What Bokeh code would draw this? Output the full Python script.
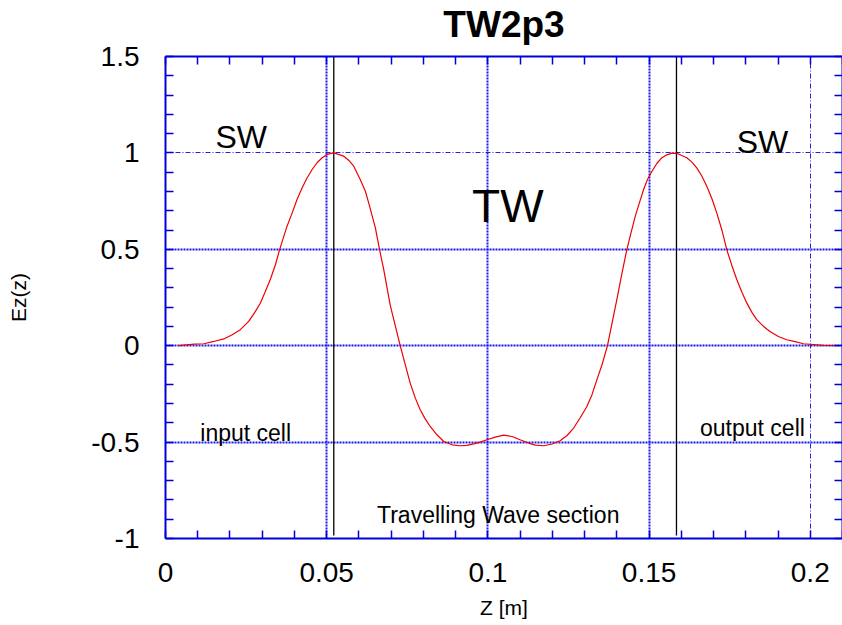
from bokeh.plotting import figure
from bokeh.models import LinearAxis, FixedTicker, Grid, Label, Range1d
from bokeh.embed import file_html
from bokeh.resources import INLINE

# ---------------- data ----------------
z_m = [0.004, 0.009, 0.0119, 0.015, 0.0181, 0.0207, 0.0232, 0.0258, 0.0279, 0.0294,
       0.031, 0.0325, 0.0341, 0.0354, 0.0377, 0.0393, 0.0408, 0.0424, 0.0439, 0.0455,
       0.047, 0.0486, 0.0501, 0.0522, 0.0553, 0.0568, 0.0584, 0.0604, 0.062, 0.0632,
       0.0651, 0.0664, 0.0677, 0.0697, 0.0728, 0.0759, 0.0775, 0.079, 0.0806, 0.0821,
       0.0842, 0.0863, 0.0889, 0.0914, 0.0935, 0.0956, 0.0976, 0.0997, 0.1023, 0.1049,
       0.1075, 0.11, 0.1126, 0.1147, 0.1173, 0.1199, 0.1224, 0.1245, 0.1266, 0.1286,
       0.1307, 0.1323, 0.1338, 0.1354, 0.1371, 0.14, 0.1416, 0.1431, 0.1444, 0.1457,
       0.147, 0.1483, 0.1495, 0.1509, 0.1524, 0.154, 0.1555, 0.1571, 0.1586, 0.1617,
       0.1633, 0.1648, 0.1664, 0.1679, 0.1695, 0.171, 0.1726, 0.1741, 0.1757, 0.1772,
       0.1788, 0.1803, 0.1819, 0.1834, 0.1855, 0.1875, 0.1901, 0.1927, 0.1953, 0.1979,
       0.204, 0.2092]
ez = [0.0, 0.008, 0.010, 0.022, 0.035, 0.057, 0.083, 0.126, 0.178, 0.22,
      0.282, 0.343, 0.42, 0.498, 0.62, 0.689, 0.758, 0.819, 0.87, 0.914,
      0.949, 0.975, 0.992, 1.0, 0.983, 0.962, 0.931, 0.862, 0.801, 0.73,
      0.611, 0.498, 0.395, 0.21, 0.0, -0.194, -0.272, -0.332, -0.381, -0.419,
      -0.462, -0.497, -0.514, -0.519, -0.517, -0.509, -0.5, -0.488, -0.474, -0.464,
      -0.471, -0.488, -0.505, -0.516, -0.519, -0.51, -0.493, -0.467, -0.427, -0.375,
      -0.315, -0.254, -0.177, -0.099, 0.0, 0.239, 0.377, 0.498, 0.585, 0.671,
      0.741, 0.81, 0.862, 0.905, 0.945, 0.975, 0.99, 0.999, 0.998, 0.975,
      0.952, 0.922, 0.879, 0.827, 0.762, 0.689, 0.599, 0.498, 0.415, 0.343,
      0.277, 0.222, 0.173, 0.135, 0.1, 0.074, 0.048, 0.031, 0.021, 0.01,
      0.002, 0.0]

cell_centres = [0.0522, 0.1585]
cell_line_bottom = [-0.985, -0.985]
cell_line_top = [1.5, 1.5]

x_ticks = [0, 0.05, 0.1, 0.15, 0.2]
x_tick_labels = ["0", "0.05", "0.1", "0.15", "0.2"]
x_minor = [0.01, 0.02, 0.03, 0.04, 0.06, 0.07, 0.08, 0.09, 0.11, 0.12, 0.13, 0.14,
           0.16, 0.17, 0.18, 0.19, 0.21]
y_ticks = [-1, -0.5, 0, 0.5, 1, 1.5]
y_tick_labels = ["-1", "-0.5", "0", "0.5", "1", "1.5"]
y_minor = [-0.9, -0.8, -0.7, -0.6, -0.4, -0.3, -0.2, -0.1, 0.1, 0.2, 0.3, 0.4,
           0.6, 0.7, 0.8, 0.9, 1.1, 1.2, 1.3, 1.4]

x_grid_thick = [0.05, 0.1, 0.15]
x_grid_thin = [0.2]
y_grid_thick = [-0.5, 0, 0.5]
y_grid_thin = [1]

title_text = "TW2p3"
annotations = [
    ("SW", 0.0155, 1.085, "32px"),
    ("SW", 0.1772, 1.059, "32px"),
    ("TW", 0.0951, 0.723, "46px"),
    ("input cell", 0.0108, -0.452, "23px"),
    ("output cell", 0.1658, -0.426, "23px"),
    ("Travelling Wave section", 0.0656, -0.877, "23px"),
]

FONT = "Liberation Sans"
AXIS_BLUE = "#0000dd"
GRID_BLUE = "#1a1aee"

p = figure(frame_width=677, frame_height=482,
           x_range=Range1d(0, 0.21), y_range=Range1d(-1, 1.5),
           output_backend="svg", toolbar_location=None,
           min_border_left=165, min_border_top=57, min_border_right=0, min_border_bottom=60,
           title=title_text, x_axis_label="Z [m]", y_axis_label="Ez(z)",
           margin=(-11, 0, 0, 0))
p.background_fill_color = "white"
p.border_fill_color = "white"
p.outline_line_color = None

p.title.align = "center"
p.title.text_font = FONT
p.title.text_font_size = "37px"
p.title.text_font_style = "bold"
p.title.text_color = "black"
p.title.standoff = 24

p.xgrid.visible = False
p.ygrid.visible = False

xt = FixedTicker(ticks=x_ticks, minor_ticks=x_minor)
yt = FixedTicker(ticks=y_ticks, minor_ticks=y_minor)
# ticks only (no labels) for the top / right frame axes
xt_plain = FixedTicker(ticks=[], minor_ticks=x_ticks + x_minor)
yt_plain = FixedTicker(ticks=[], minor_ticks=y_ticks + y_minor)
xover = {t: l for t, l in zip(x_ticks, x_tick_labels)}
yover = {t: l for t, l in zip(y_ticks, y_tick_labels)}


def style_axis(ax, ticker):
    ax.ticker = ticker
    ax.axis_line_color = AXIS_BLUE
    ax.axis_line_width = 2
    ax.major_tick_line_color = AXIS_BLUE
    ax.minor_tick_line_color = AXIS_BLUE
    ax.major_tick_line_width = 1.5
    ax.minor_tick_line_width = 1.5
    ax.major_tick_in = 8
    ax.major_tick_out = 0
    ax.minor_tick_in = 8
    ax.minor_tick_out = 0


xa = p.xaxis[0]
ya = p.yaxis[0]
style_axis(xa, xt)
style_axis(ya, yt)
xa.major_label_overrides = xover
ya.major_label_overrides = yover
for ax in (xa, ya):
    ax.major_label_text_font = FONT
    ax.major_label_text_font_size = "28px"
    ax.major_label_text_color = "black"
    ax.axis_label_text_font = FONT
    ax.axis_label_text_font_size = "21px"
    ax.axis_label_text_font_style = "normal"
    ax.axis_label_text_color = "black"
xa.major_label_standoff = 24
ya.major_label_standoff = 26
xa.axis_label_standoff = 11
ya.axis_label_standoff = 58

top = LinearAxis()
right = LinearAxis()
style_axis(top, xt_plain)
style_axis(right, yt_plain)
top.major_label_standoff = 0
right.major_label_standoff = 0
p.add_layout(top, "above")
p.add_layout(right, "right")

# grids
p.add_layout(Grid(dimension=0, ticker=FixedTicker(ticks=x_grid_thick), grid_line_color=GRID_BLUE,
                  grid_line_width=2, grid_line_dash="2 1"))
p.add_layout(Grid(dimension=1, ticker=FixedTicker(ticks=y_grid_thick), grid_line_color=GRID_BLUE,
                  grid_line_width=2, grid_line_dash="2 1"))
p.add_layout(Grid(dimension=0, ticker=FixedTicker(ticks=x_grid_thin), grid_line_color="#2222dd",
                  grid_line_width=1, grid_line_dash="5 2 1 2"))
p.add_layout(Grid(dimension=1, ticker=FixedTicker(ticks=y_grid_thin), grid_line_color="#2222dd",
                  grid_line_width=1, grid_line_dash="5 2 1 2"))

# cell centre lines
p.segment(x0=cell_centres, y0=cell_line_bottom, x1=cell_centres, y1=cell_line_top,
          line_color="black", line_width=1.3)

# field curve
p.line(z_m, ez, line_color="#ee0000", line_width=1.2)

for txt, x, y, size in annotations:
    p.add_layout(Label(x=x, y=y, text=txt, text_font=FONT, text_font_size=size,
                       text_color="black", text_align="left", text_baseline="alphabetic"))

open("out.html", "w").write(file_html(p, INLINE))
